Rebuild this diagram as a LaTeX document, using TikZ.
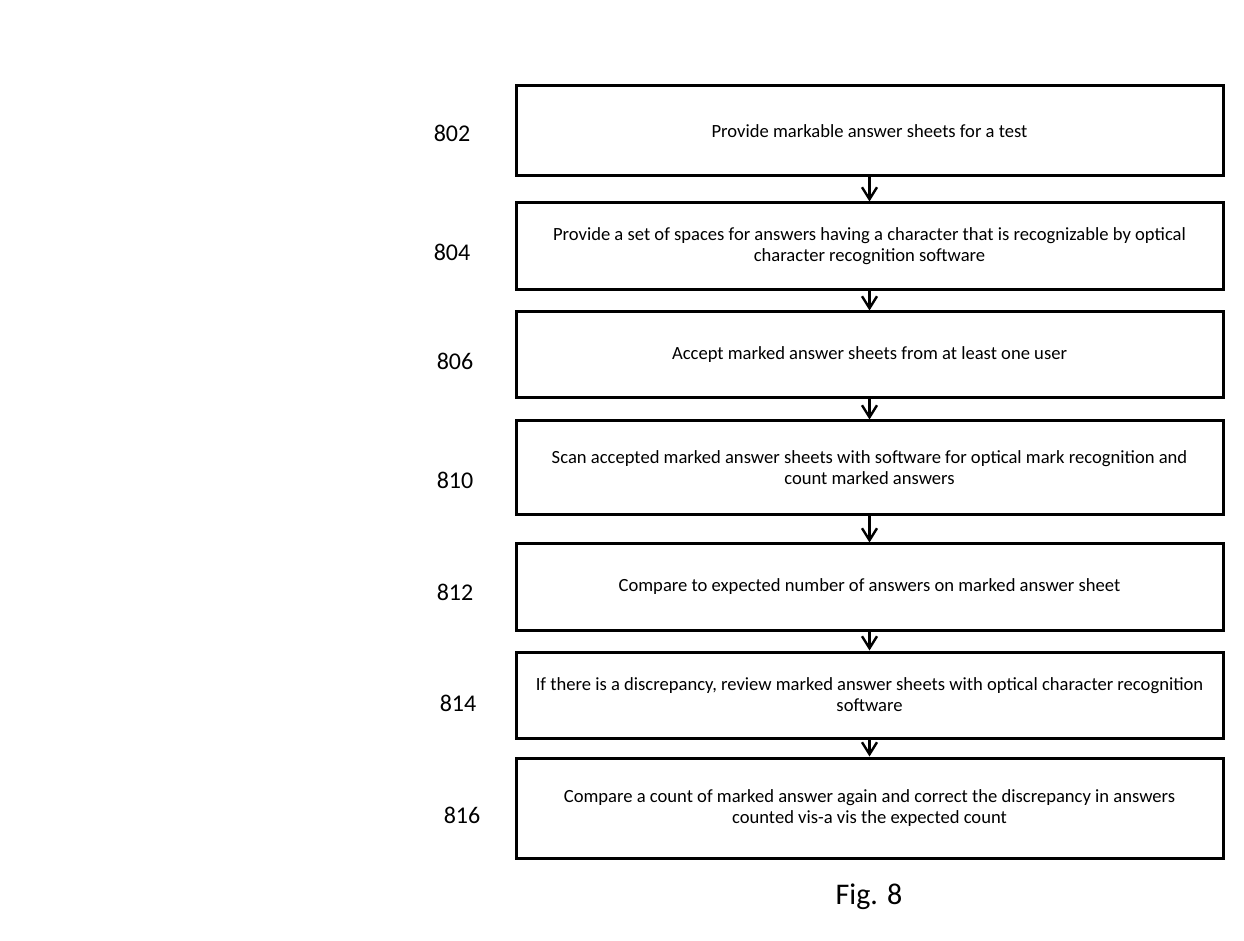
\documentclass[tikz,border=0pt]{standalone}
\usepackage{fontspec}
\setmainfont{Carlito}
\usetikzlibrary{arrows.meta, positioning}

\begin{document}
\begin{tikzpicture}[
      x=0.5pt, y=-0.5pt,
      stepbox/.style={rectangle, draw=black, line width=1.5pt,
                      minimum width=353.5pt, align=center,
                      font=\fontsize{9.3}{10.5}\selectfont},
      steplabel/.style={font=\fontsize{12}{14}\selectfont},
      flow/.style={-{Straight Barb[length=6pt, width=7.5pt]}, line width=1.2pt}
    ]
    \useasboundingbox (0,0) rectangle (1244,941);

    % steps
    \node[stepbox, minimum height=45pt]   (b802) at (869.5,131)
      {Provide markable answer sheets for a test};
    \node[stepbox, minimum height=43.5pt] (b804) at (869.5,246.5)
      {Provide a set of spaces for answers having a character that is recognizable by optical\\
       character recognition software};
    \node[stepbox, minimum height=43pt]   (b806) at (869.5,355)
      {Accept marked answer sheets from at least one user};
    \node[stepbox, minimum height=47pt]   (b810) at (869.5,468)
      {Scan accepted marked answer sheets with software for optical mark recognition and\\
       count marked answers};
    \node[stepbox, minimum height=43pt]   (b812) at (869.5,587)
      {Compare to expected number of answers on marked answer sheet};
    \node[stepbox, minimum height=43pt]   (b814) at (869.5,695)
      {If there is a discrepancy, review marked answer sheets with optical character recognition\\
       software};
    \node[stepbox, minimum height=50pt]   (b816) at (869.5,808)
      {Compare a count of marked answer again and correct the discrepancy in answers\\
       counted vis-a vis the expected count};

    % reference numerals
    \node[steplabel] (l802) at (452,133) {802};
    \node[steplabel] (l804) at (452,252) {804};
    \node[steplabel] (l806) at (455,361) {806};
    \node[steplabel] (l810) at (455,480) {810};
    \node[steplabel] (l812) at (455,592) {812};
    \node[steplabel] (l814) at (458,703) {814};
    \node[steplabel] (l816) at (462,815) {816};

    \node[font=\fontsize{15}{17}\selectfont] (fig) at (869,897) {Fig. 8};

    % arrows
    \foreach \a/\b in {b802/b804, b804/b806, b806/b810, b810/b812, b812/b814, b814/b816}
      \draw[flow] (\a) -- (\b);
  \end{tikzpicture}
\end{document}
